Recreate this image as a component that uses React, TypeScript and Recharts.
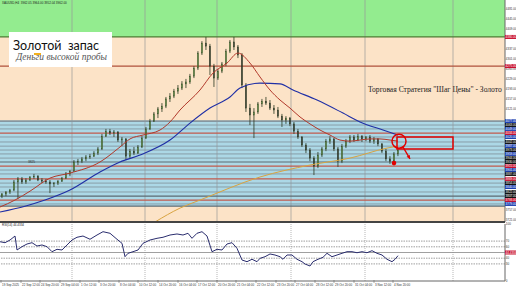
import React from "react";
import {
  Bar,
  ComposedChart,
  Line,
  ReferenceArea,
  ReferenceDot,
  ReferenceLine,
  XAxis,
  YAxis,
} from "recharts";

// XAUUSD H4 candles
const opens = [
  3807, 3815, 3822, 3829, 3858, 3869, 3858, 3865, 3876, 3879,
  3865, 3861, 3858, 3851, 3854, 3861, 3872, 3887, 3897, 3930,
  3933, 3941, 3948, 3951, 3962, 3977, 4023, 4041, 4034, 4038,
  4009, 4013, 3951, 3969, 3962, 3984, 4016, 4049, 4077, 4103,
  4121, 4131, 4157, 4167, 4185, 4196, 4211, 4218, 4239, 4268,
  4322, 4358, 4347, 4275, 4232, 4257, 4283, 4329, 4362, 4344,
  4315, 4207, 4124, 4099, 4110, 4139, 4149, 4142, 4124, 4117,
  4095, 4081, 4088, 4067, 4041, 4020, 3991, 3973, 3944, 3915,
  3955, 3977, 4005, 4013, 3977, 3933, 3987, 4005, 4020, 4009,
  4023, 4013, 4020, 4005, 4013, 3995, 3969, 3941, 3933, 3959,
];
const highs = [
  3818, 3825, 3833, 3865, 3876, 3876, 3872, 3879, 3887, 3883,
  3872, 3869, 3865, 3858, 3865, 3876, 3894, 3901, 3937, 3941,
  3948, 3955, 3959, 3969, 3984, 4031, 4049, 4049, 4045, 4041,
  4020, 4016, 3977, 3984, 3991, 4023, 4056, 4085, 4110, 4128,
  4142, 4164, 4178, 4193, 4207, 4221, 4229, 4247, 4275, 4329,
  4365, 4380, 4355, 4283, 4265, 4290, 4337, 4369, 4380, 4351,
  4322, 4214, 4139, 4124, 4146, 4157, 4164, 4153, 4135, 4128,
  4103, 4095, 4092, 4074, 4049, 4023, 3998, 3980, 3951, 3966,
  3984, 4013, 4023, 4016, 3984, 3995, 4013, 4027, 4027, 4031,
  4027, 4023, 4027, 4020, 4016, 3998, 3977, 3951, 3966, 3980,
];
const lows = [
  3800, 3807, 3815, 3825, 3797, 3851, 3851, 3861, 3869, 3861,
  3854, 3851, 3818, 3840, 3847, 3858, 3869, 3879, 3894, 3919,
  3926, 3933, 3941, 3948, 3955, 3973, 4020, 4027, 4020, 4002,
  3987, 3937, 3944, 3955, 3959, 3980, 4013, 4045, 4074, 4088,
  4110, 4124, 4146, 4160, 4175, 4189, 4196, 4211, 4232, 4261,
  4315, 4333, 4243, 4200, 4225, 4250, 4275, 4322, 4333, 4304,
  4196, 4110, 4063, 4016, 4103, 4128, 4135, 4117, 4103, 4088,
  4056, 4067, 4059, 4031, 4013, 3984, 3962, 3933, 3883, 3908,
  3948, 3969, 3995, 3969, 3912, 3926, 3980, 3998, 4002, 4005,
  4002, 4005, 3998, 3995, 3987, 3962, 3933, 3923, 3930, 3951,
];
const closes = [
  3815, 3822, 3829, 3858, 3869, 3858, 3865, 3876, 3879, 3865,
  3861, 3858, 3851, 3854, 3861, 3872, 3887, 3897, 3930, 3933,
  3941, 3948, 3951, 3962, 3977, 4023, 4041, 4034, 4038, 4009,
  4013, 3951, 3969, 3962, 3984, 4016, 4049, 4077, 4103, 4121,
  4131, 4157, 4167, 4185, 4196, 4211, 4218, 4239, 4268, 4322,
  4358, 4347, 4275, 4232, 4257, 4283, 4329, 4362, 4344, 4315,
  4207, 4124, 4099, 4110, 4139, 4149, 4142, 4124, 4117, 4095,
  4081, 4088, 4067, 4041, 4020, 3991, 3973, 3944, 3915, 3955,
  3977, 4005, 4013, 3977, 3933, 3987, 4005, 4020, 4009, 4023,
  4013, 4020, 4005, 4013, 3995, 3969, 3941, 3933, 3959, 3973,
];

// moving averages, sampled at bar positions
const fastMaAt = [-0.5, 3.25, 7, 12, 17, 24.5, 29.5, 32, 35.25, 39.5, 42, 44.5, 49.5, 52.75, 56.25, 59, 62, 64.5, 67, 69.5, 72, 74.5, 77, 79.5, 82, 84.5, 87, 89.5, 92, 94.5, 97, 99];
const fastMa = [3768, 3793, 3825, 3872, 3890, 3930, 3984, 4013, 4027, 4045, 4074, 4117, 4189, 4250, 4286, 4322, 4286, 4236, 4189, 4153, 4124, 4092, 4067, 4045, 4027, 4009, 4005, 4009, 4013, 4013, 4009, 4005];
const slowMaAt = [-0.5, 5.75, 10.75, 17, 24.5, 29.5, 34.5, 42, 47, 52, 57, 59.5, 64.5, 69.5, 72.75, 78.75, 85.25, 89.5, 95.25, 99];
const slowMa = [3750, 3771, 3793, 3829, 3894, 3930, 3955, 4009, 4070, 4124, 4164, 4196, 4214, 4211, 4189, 4153, 4106, 4074, 4045, 4027];
const longMaAt = [38.25, 44.5, 49.5, 64.5, 77, 87, 96.25, 99];
const longMa = [3714, 3764, 3793, 3876, 3919, 3944, 3980, 3987];

// RSI(14)
const rsiAt = [-0.5, 0.75, 2, 3.25, 3.75, 5, 6.25, 7.5, 8.75, 10, 11.25, 12.5, 13.75, 15, 16.25, 17.5, 18.75, 20.25, 22, 23.75, 25.25, 27, 28.75, 30, 30.75, 31.5, 32.75, 34, 35.25, 37, 38.75, 40.25, 42, 43.75, 45.25, 46.5, 47.5, 48.75, 50, 51.25, 52.5, 53.75, 55, 56.25, 57.5, 58.75, 60, 61.25, 62.5, 63.75, 64.5, 65.75, 67, 68.25, 69.5, 70.25, 71.25, 72.5, 73.75, 75, 75.75, 77, 77.75, 79, 80.25, 81.25, 82.5, 83.75, 85, 86.25, 87.5, 88.75, 90, 91.25, 92.5, 93.75, 95, 96.25, 97.5, 98.25, 99];
const rsi = [68.9, 67.2, 71.9, 78.9, 54.4, 60.2, 64.9, 67.2, 61.4, 63.2, 60.2, 51.4, 55.6, 54.4, 63.2, 71.9, 76.7, 78.9, 73.2, 80.7, 86.5, 83.7, 73.2, 66.1, 42.6, 48.6, 51.4, 54.4, 66.1, 71.9, 74.9, 76.7, 80.7, 82.5, 80.7, 83.7, 74.9, 83.7, 86.5, 78.9, 51.4, 55.6, 54.4, 64.9, 67.2, 57.4, 36.8, 33.9, 38.1, 33.9, 39.8, 42.6, 47.4, 45.6, 42.6, 38.1, 45.6, 45.6, 38.1, 33.9, 29.8, 26.3, 33.9, 38.1, 41.6, 48.6, 42.6, 45.6, 48.6, 51.4, 51.4, 49.6, 51.4, 49.6, 53.2, 48.6, 45.6, 38.1, 33.9, 38.1, 44.4];
const rsiLevels = [70, 60, 40, 30];

// price levels ("Шаг Цены" grid)
const levelPrices = [4077, 4063, 4049, 4034, 4020, 4002, 3987, 3973, 3959, 3944, 3930, 3915, 3901, 3887, 3869, 3854, 3840, 3822, 3807, 3793, 3779];
const levelKinds = ["g", "g", "g", "r", "g", "g", "g", "g", "g", "g", "d", "r", "g", "g", "r", "g", "g", "g", "d", "r", "g"];
const markPrices = [4380, 4275];
const zoneTop = 4513;
const zoneGreen = 4380;
const zoneBlueTop = 4077;
const zoneBlueBottom = 3771;
const zoneBottom = 3714;
const priceTicks = [4481, 4445, 4409, 4337, 4301, 4265, 4229, 4193, 4157, 4121, 3757, 3721];

// time axis
const gridAt = [17.5, 35.75, 53.75, 72.25, 90.75, 112.75];
const timeAt = [-0.25, 4.75, 9.5, 14.5, 19.5, 24.25, 29.25, 34, 39, 44, 48.75, 53.75, 58.5, 63.5, 68.5, 73.25, 78.25, 83, 88, 93, 97.75];
const timeLabels = [
  "19 Sep 2025", "22 Sep 12:00", "24 Sep 20:00", "29 Sep 04:00", "1 Oct 12:00",
  "3 Oct 20:00", "8 Oct 04:00", "10 Oct 12:00", "14 Oct 20:00", "16 Oct 04:00",
  "17 Oct 12:00", "20 Oct 20:00", "21 Oct 04:00", "22 Oct 12:00", "23 Oct 20:00",
  "27 Oct 04:00", "28 Oct 12:00", "29 Oct 20:00", "31 Oct 04:00", "3 Nov 12:00",
  "4 Nov 20:00",
];

const X_DOMAIN: [number, number] = [-0.5, 125.75];
const RED = "#e00000";
const TINY = '"Liberation Sans", Arial, sans-serif';

const candles = closes.map((c, i) => ({ i, o: opens[i], h: highs[i], l: lows[i], c }));
const fastPts = fastMaAt.map((i, k) => ({ i, v: fastMa[k] }));
const slowPts = slowMaAt.map((i, k) => ({ i, v: slowMa[k] }));
const longPts = longMaAt.map((i, k) => ({ i, v: longMa[k] }));
const rsiPts = rsiAt.map((i, k) => ({ i, v: rsi[k] }));

const lineColor: Record<string, string> = { g: "#8597a1", r: "#c25a4c", d: "#5d6a72" };

function tagColor(v: number) {
  const k = levelPrices.indexOf(v);
  if (k >= 0) {
    if (levelKinds[k] === "r") return "#c8102e";
    if (levelKinds[k] === "d") return "#111";
    return k % 2 === 0 ? "#1c3fb0" : "#111";
  }
  if (markPrices.includes(v)) return "#c8102e";
  return null;
}

function Candle(props: any) {
  const { x, y, width, height, payload } = props;
  if (!payload) return null;
  const top = Math.min(y, y + height);
  const h = Math.abs(height);
  const k = h / Math.max(payload.h - payload.l, 1);
  const py = (p: number) => top + (payload.h - p) * k;
  const up = payload.c >= payload.o;
  const bTop = py(Math.max(payload.o, payload.c));
  const bBot = py(Math.min(payload.o, payload.c));
  const cx = x + width / 2;
  return (
    <g>
      <line x1={cx} x2={cx} y1={top} y2={top + h} stroke="#2b3a22" strokeWidth={0.8} />
      <rect
        x={x}
        y={bTop}
        width={width}
        height={Math.max(bBot - bTop, 0.8)}
        fill={up ? "#7cc653" : "#2f2f2f"}
        stroke="#2b3a22"
        strokeWidth={0.4}
      />
    </g>
  );
}

function PriceTick(props: any) {
  const { x, y, payload } = props;
  const v = payload.value as number;
  const c = tagColor(v);
  if (c) {
    return (
      <g>
        <rect x={x} y={y - 2} width={11} height={4} fill={c} />
        <text x={x + 0.6} y={y + 1.1} fontSize={3} fill="#fff" fontFamily={TINY}>
          {v.toFixed(2)}
        </text>
      </g>
    );
  }
  return (
    <text x={x + 0.8} y={y + 1.1} fontSize={3} fill="#333" fontFamily={TINY}>
      {v.toFixed(2)}
    </text>
  );
}

function RsiTick(props: any) {
  const { x, y, payload } = props;
  const v = payload.value as number;
  if (v === 50) {
    return (
      <g>
        <rect x={x} y={y - 2} width={11} height={4} fill="#c8102e" />
        <text x={x + 0.6} y={y + 1.1} fontSize={3} fill="#fff" fontFamily={TINY}>
          44.4334
        </text>
      </g>
    );
  }
  return (
    <text x={x + 0.8} y={y + 1.1} fontSize={3} fill="#333" fontFamily={TINY}>
      {v}
    </text>
  );
}

function TimeTick(props: any) {
  const { x, y, payload } = props;
  const k = timeAt.indexOf(payload.value);
  return (
    <g>
      <line x1={x} x2={x} y1={y - 1} y2={y + 2} stroke="#555" strokeWidth={0.5} />
      <text x={x + 1} y={y + 4.6} fontSize={3} fill="#333" fontFamily={TINY}>
        {timeLabels[k] ?? ""}
      </text>
    </g>
  );
}

function Arrow(props: any) {
  const { x1, y1, x2, y2 } = props;
  if (x1 == null) return null;
  const a = Math.atan2(y2 - y1, x2 - x1);
  const s = 4;
  const pts = [
    [x2, y2],
    [x2 - s * Math.cos(a - 0.5), y2 - s * Math.sin(a - 0.5)],
    [x2 - s * Math.cos(a + 0.5), y2 - s * Math.sin(a + 0.5)],
  ];
  return (
    <g>
      <line x1={x1} y1={y1} x2={x2} y2={y2} stroke={RED} strokeWidth={1.4} />
      <polygon points={pts.map((q) => q.join(",")).join(" ")} fill={RED} />
    </g>
  );
}

export default function App() {
  return (
    <div style={{ position: "absolute", left: 0, top: 0, width: 516, height: 289, background: "#fff", overflow: "hidden" }}>
      <ComposedChart width={516} height={222} data={candles} margin={{ top: 0, right: 0, bottom: 0, left: 0 }}>
        <XAxis type="number" dataKey="i" domain={X_DOMAIN} allowDataOverflow hide />
        <YAxis
          orientation="right"
          width={11}
          domain={[zoneBottom, zoneTop]}
          allowDataOverflow
          ticks={[...priceTicks, ...markPrices, ...levelPrices]}
          interval={0}
          tick={<PriceTick />}
          tickSize={0}
          tickMargin={0}
          axisLine={{ stroke: "#666", strokeWidth: 1 }}
        />
        <ReferenceArea y1={zoneGreen} y2={zoneTop} fill="#93ec8f" fillOpacity={1} stroke="none" zIndex={-95} />
        <ReferenceArea y1={zoneBlueTop} y2={zoneGreen} fill="#fce3c7" fillOpacity={1} stroke="none" zIndex={-95} />
        <ReferenceArea y1={zoneBlueBottom} y2={zoneBlueTop} fill="#acd8e6" fillOpacity={1} stroke="none" zIndex={-95} />
        <ReferenceArea y1={zoneBottom} y2={zoneBlueBottom} fill="#fce3c7" fillOpacity={1} stroke="none" zIndex={-95} />
        {gridAt.map((g) => (
          <ReferenceLine key={`gx${g}`} x={g} stroke="#9a9a9a" strokeWidth={0.7} zIndex={-90} />
        ))}
        {levelPrices.map((p, k) => (
          <ReferenceLine
            key={`lv${p}`}
            y={p}
            stroke={lineColor[levelKinds[k]]}
            strokeWidth={k === 0 ? 1.6 : levelKinds[k] === "g" ? 0.9 : 1.2}
            zIndex={-80}
          />
        ))}
        <ReferenceLine y={zoneBlueBottom} stroke="#5d6a72" strokeWidth={1.2} zIndex={-80} />
        <ReferenceLine y={markPrices[0]} stroke="#4f7d34" strokeWidth={1.3} zIndex={-80} />
        <ReferenceLine y={markPrices[1]} stroke="#b0523d" strokeWidth={1.3} zIndex={-80} />
        <Bar dataKey={(d: any) => [d.l, d.h]} barSize={3} shape={<Candle />} activeBar={false} isAnimationActive={false} />
        <Line data={longPts} dataKey="v" type="monotone" stroke="#d9a441" strokeWidth={1} dot={false} activeDot={false} isAnimationActive={false} />
        <Line data={slowPts} dataKey="v" type="monotone" stroke="#1f2fa6" strokeWidth={1.1} dot={false} activeDot={false} isAnimationActive={false} />
        <Line data={fastPts} dataKey="v" type="monotone" stroke="#b2392b" strokeWidth={1} dot={false} activeDot={false} isAnimationActive={false} />
        <ReferenceArea x1={98.75} x2={112.75} y1={3977} y2={4020} fill="none" fillOpacity={0} stroke={RED} strokeWidth={1.5} zIndex={700} />
        <ReferenceDot x={99.25} y={4005} r={7} fill="none" stroke={RED} strokeWidth={1.5} zIndex={700} />
        <ReferenceDot x={98} y={3926} r={2.3} fill={RED} stroke="none" zIndex={700} />
        <ReferenceLine segment={[{ x: 100.25, y: 3984 }, { x: 102, y: 3941 }]} stroke={RED} shape={<Arrow />} zIndex={700} />
      </ComposedChart>

      <div style={{ position: "absolute", left: 0, top: 221, width: 505, height: 1.5, background: "#444" }} />

      <div style={{ position: "absolute", left: 0, top: 222 }}>
        <ComposedChart width={516} height={67} data={rsiPts} margin={{ top: 2, right: 0, bottom: 0, left: 0 }}>
          <XAxis
            type="number"
            dataKey="i"
            domain={X_DOMAIN}
            allowDataOverflow
            ticks={timeAt}
            interval={0}
            height={8}
            tick={<TimeTick />}
            tickSize={0}
            tickMargin={0}
            axisLine={{ stroke: "#666", strokeWidth: 1 }}
          />
          <YAxis
            orientation="right"
            width={11}
            domain={[0, 100]}
            ticks={[0, 30, 40, 50, 60, 70, 100]}
            interval={0}
            tick={<RsiTick />}
            tickSize={0}
            tickMargin={0}
            axisLine={{ stroke: "#666", strokeWidth: 1 }}
          />
          {gridAt.map((g) => (
            <ReferenceLine key={`rg${g}`} x={g} stroke="#999" strokeWidth={0.7} strokeDasharray="1 1" />
          ))}
          {rsiLevels.map((l) => (
            <ReferenceLine key={`rl${l}`} y={l} stroke="#888" strokeWidth={0.8} strokeDasharray="1.5 1" />
          ))}
          <ReferenceLine y={50} stroke="#888" strokeWidth={0.8} />
          <Line dataKey="v" type="linear" stroke="#2a2d6e" strokeWidth={1} dot={false} activeDot={false} isAnimationActive={false} />
        </ComposedChart>
      </div>

      <div style={{ position: "absolute", left: 2, top: 0.5, fontFamily: TINY, fontSize: 3, color: "#222", whiteSpace: "nowrap" }}>
        XAUUSD,H4&nbsp; 3962.05 3964.00 3952.04 3962.00
      </div>
      <div style={{ position: "absolute", left: 2, top: 223, fontFamily: TINY, fontSize: 3, color: "#222", whiteSpace: "nowrap" }}>
        RSI(14) 44.4334
      </div>
      <div style={{ position: "absolute", left: 28, top: 159.5, fontFamily: TINY, fontSize: 3.2, color: "#333" }}>3825</div>

      <div style={{ position: "absolute", left: 9, top: 32, width: 103, height: 35, background: "#fff" }}>
        <div style={{ position: "absolute", left: 4, top: 8, fontFamily: "Lato, 'Open Sans', sans-serif", fontSize: 12.5, lineHeight: 1, color: "#111", whiteSpace: "nowrap" }}>
          Зол<span style={{ borderBottom: "2px solid #f2b01e" }}>о</span>той&nbsp; запас
        </div>
        <div style={{ position: "absolute", right: 5, top: 21, fontFamily: "'Liberation Serif', serif", fontStyle: "italic", fontSize: 9.5, lineHeight: 1, color: "#555", whiteSpace: "nowrap" }}>
          Деньги высокой пробы
        </div>
      </div>

      <div style={{ position: "absolute", left: 368, top: 85.5, fontFamily: "'Liberation Serif', serif", fontSize: 7.6, lineHeight: 1, color: "#222", whiteSpace: "nowrap" }}>
        {'Торговая Стратегия "Шаг Цены" - Золото'}
      </div>
    </div>
  );
}
